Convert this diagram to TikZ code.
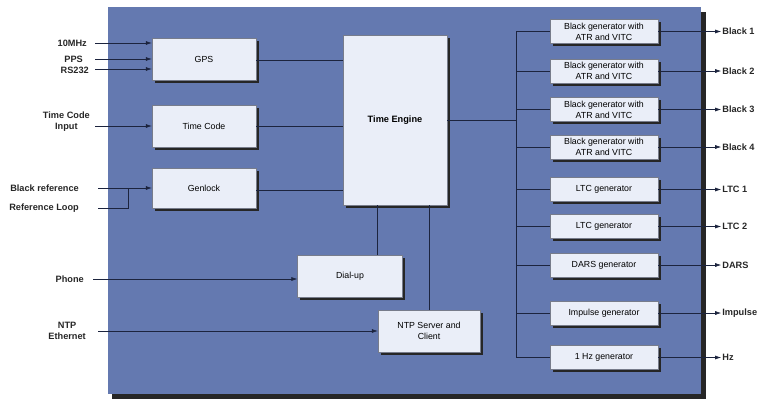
\documentclass[tikz,border=0pt]{standalone}
\usepackage{fontspec}
\setmainfont{Liberation Sans}
\usepackage{xcolor}
\usetikzlibrary{arrows.meta, positioning, shadows, calc}

\definecolor{panelblue}{RGB}{100,121,176}
\definecolor{boxwhite}{RGB}{234,238,248}
\definecolor{wire}{RGB}{28,36,62}

\begin{document}
\begin{tikzpicture}[
    x=1pt, y=-1pt,
    blk/.style={rectangle, fill=boxwhite, draw=wire!60, line width=0.3pt,
                align=center, font=\fontsize{8.8}{11}\selectfont,
                drop shadow={shadow xshift=2.5pt, shadow yshift=-2.5pt,
                             fill=black!85, opacity=1}},
    gen/.style={blk, minimum width=108pt, minimum height=24pt, inner sep=1pt},
    lbl/.style={font=\fontsize{9.2}{11}\selectfont\bfseries, align=center,
                inner sep=1pt, text=black!85},
    wireline/.style={draw=wire, line width=0.6pt},
    sig/.style={wireline, -{Latex[length=6pt, width=4pt]}}
  ]
  \useasboundingbox (0,0) rectangle (760,402);

  % panel
  \fill[black!85] (112,12) rectangle (706,399);
  \fill[panelblue] (108,7) rectangle (701,394);

  % left side blocks
  \node[blk, minimum width=104pt, minimum height=42pt] (gps) at (204,59) {GPS};
  \node[blk, minimum width=104pt, minimum height=42pt] (tc) at (204,126) {Time Code};
  \node[blk, minimum width=104pt, minimum height=40pt] (genlock) at (204,188) {Genlock};
  \node[blk, minimum width=104pt, minimum height=170pt,
        font=\fontsize{9.2}{11}\selectfont\bfseries] (engine) at (395,120) {Time Engine};
  \node[blk, minimum width=105pt, minimum height=42pt] (dialup) at (350,276) {Dial-up};
  \node[blk, minimum width=102pt, minimum height=42pt] (ntp) at (429,331) {NTP Server and\\Client};

  % generators
  \node[gen] (b1) at (604,31.5) {Black generator with\\ATR and VITC};
  \node[gen] (b2) at (604,71) {Black generator with\\ATR and VITC};
  \node[gen] (b3) at (604,109.5) {Black generator with\\ATR and VITC};
  \node[gen] (b4) at (604,147) {Black generator with\\ATR and VITC};
  \node[gen] (ltc1) at (604,189.5) {LTC generator};
  \node[gen] (ltc2) at (604,226.5) {LTC generator};
  \node[gen] (dars) at (604,265) {DARS generator};
  \node[gen] (imp) at (604,313) {Impulse generator};
  \node[gen] (hz) at (604,357.5) {1 Hz generator};

  % inputs
  \node[lbl, anchor=east] (in10) at (88,43) {10MHz};
  \node[lbl, anchor=east] (inpps) at (84,59) {PPS};
  \node[lbl, anchor=east] (inrs) at (90,70) {RS232};
  \node[lbl, anchor=east] (intc) at (91,122) {Time Code\\Input};
  \node[lbl, anchor=east] (inbr) at (80,188) {Black reference};
  \node[lbl, anchor=east] (inrl) at (80,208) {Reference Loop};
  \node[lbl, anchor=east] (inph) at (85,279) {Phone};
  \node[lbl, anchor=east] (inntp) at (87,331) {NTP\\Ethernet};

  \coordinate (s10) at (95,43);
  \coordinate (spps) at (95,59);
  \coordinate (srs) at (95,69);
  \coordinate (stc) at (95,126);
  \coordinate (sbr) at (98,188);
  \coordinate (srl) at (98,208);
  \coordinate (sph) at (93,279);
  \coordinate (sntp) at (98,331);
  \coordinate (loop) at (128,208);

  \draw[sig] (s10) -- (s10 -| gps.west);
  \draw[sig] (spps) -- (spps -| gps.west);
  \draw[sig] (srs) -- (srs -| gps.west);
  \draw[sig] (stc) -- (stc -| tc.west);
  \draw[sig] (sbr) -- (sbr -| genlock.west);
  \draw[wireline] (srl) -- (loop) -- (loop |- sbr);
  \draw[sig] (sph) -- (sph -| dialup.west);
  \draw[sig] (sntp) -- (sntp -| ntp.west);

  % into the engine
  \draw[wireline] ($(gps.east)+(0,1)$) -- ($(gps.east -| engine.west)+(0,1)$);
  \draw[wireline] (tc.east) -- (tc.east -| engine.west);
  \draw[wireline] ($(genlock.east)+(0,2)$) -- ($(genlock.east -| engine.west)+(0,2)$);
  \draw[wireline] (dialup.north -| 377,0) -- (engine.south -| 377,0);
  \draw[wireline] (ntp.north) -- (ntp.north |- engine.south);

  % bus to generators
  \coordinate (bustop) at (516,31.5);
  \coordinate (busbot) at (516,357.5);
  \draw[wireline] (bustop) -- (busbot);
  \draw[wireline] (engine.east) -- (engine.east -| bustop);
  \foreach \g in {b1,b2,b3,b4,ltc1,ltc2,dars,imp,hz}
    \draw[wireline] (\g.west -| bustop) -- (\g.west);

  % outputs
  \foreach \g/\t in {b1/Black 1,b2/Black 2,b3/Black 3,b4/Black 4,
                     ltc1/LTC 1,ltc2/LTC 2,dars/DARS,imp/Impulse,hz/Hz} {
    \node[lbl, anchor=west] (out\g) at ($(\g.east)+(63,0)$) {\t};
    \draw[sig] (\g.east) -- (out\g.west);
  }
\end{tikzpicture}
\end{document}
